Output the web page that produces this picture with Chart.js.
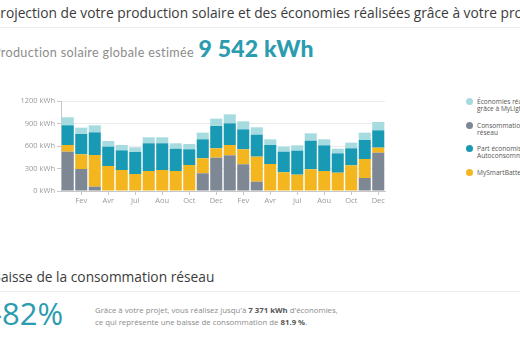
<!DOCTYPE html>
<html>
<head>
<meta charset="utf-8">
<script src="https://cdn.jsdelivr.net/npm/chart.js@4"></script>
<style>
  body { margin: 0; width: 520px; height: 347px; overflow: hidden; background: #fff; font-family: "Open Sans", sans-serif; position: relative; }
  .abs { position: absolute; white-space: nowrap; }
  .title { left: -8px; top: 3px; font-size: 13.75px; color: #3b3b3b; }
  .rule { left: 0; width: 520px; height: 1px; background: #ececec; }
  .sub { left: -7px; top: 34px; font-family: Lato, sans-serif; font-size: 12.6px; letter-spacing: 0.35px; color: #8c8c8c; }
  .sub b { font-size: 23px; font-weight: 900; color: #2b9caf; margin-left: 1px; letter-spacing: 0.2px; }
  #wrap { left: 0; top: 91px; width: 388px; height: 120px; }
  #legend { left: 466px; top: 98px; font-size: 6.6px; color: #555; line-height: 7px; }
  #legend .item { position: relative; padding-left: 11px; margin-bottom: 9.5px; }
  #legend .dot { position: absolute; left: 0; top: 0; width: 7px; height: 7px; border-radius: 50%; }
  .big { left: -8px; top: 292px; font-size: 31px; color: #2b9caf; }
  .para { left: 95px; top: 304px; font-size: 7.8px; line-height: 12px; color: #8a8a8a; }
  .para b { color: #555; }
</style>
</head>
<body>
<div class="abs title">Projection de votre production solaire et des économies réalisées grâce à votre projet</div>
<div class="abs rule" style="top:27px"></div>
<div class="abs sub">Production solaire globale estimée <b>9 542 kWh</b></div>
<div class="abs" id="wrap"><canvas id="myChart"></canvas></div>
<div class="abs" id="legend"></div>
<div class="abs title" style="top:267px">Baisse de la consommation réseau</div>
<div class="abs rule" style="top:291px"></div>
<div class="abs big">-82%</div>
<div class="abs para">Grâce à votre projet, vous réalisez jusqu'à <b>7 371 kWh</b> d'économies,<br>ce qui représente une baisse de consommation de <b>81.9 %</b>.</div>
<script>
const months = ["Jan", "Fev", "Mar", "Avr", "Mai", "Jul", "Jui", "Aou", "Sep", "Oct", "Nov", "Dec"];
const labels = months.concat(months);
const yTicks = [0, 300, 600, 900, 1200];

const reseau = [524, 293, 58, 0, 0, 0, 0, 0, 0, 0, 236, 444, 476, 356, 124, 0, 0, 0, 0, 0, 0, 0, 173, 511];
const battery = [89, 196, 422, 333, 280, 227, 267, 280, 267, 347, 200, 125, 137, 200, 334, 360, 249, 218, 289, 267, 244, 342, 254, 67];
const autoconso = [263, 271, 302, 258, 262, 293, 369, 356, 297, 209, 253, 298, 289, 266, 293, 253, 275, 320, 382, 342, 258, 227, 253, 231];
const mylight = [107, 84, 94, 76, 71, 62, 80, 80, 72, 71, 89, 97, 120, 107, 98, 76, 67, 71, 98, 80, 62, 75, 98, 111];

const seriesNames = {
  reseau: ["Consommation", "réseau"],
  battery: ["MySmartBattery"],
  autoconso: ["Part économisée", "Autoconsommation"],
  mylight: ["Économies réalisées", "grâce à MyLight"],
};
const colors = { reseau: "#7e8794", battery: "#f3b61f", autoconso: "#1899b4", mylight: "#a6dbe0" };
const legendOrder = ["mylight", "reseau", "autoconso", "battery"];

const ds = (key, data) => ({
  label: seriesNames[key].join(" "),
  data: data,
  backgroundColor: colors[key],
  borderWidth: 0,
  categoryPercentage: 0.92,
  barPercentage: 0.97,
});

var ctx = document.getElementById("myChart").getContext("2d");
var myChart = new Chart(ctx, {
  type: "bar",
  data: {
    labels: labels,
    datasets: [ds("reseau", reseau), ds("battery", battery), ds("autoconso", autoconso), ds("mylight", mylight)],
  },
  options: {
    responsive: true,
    maintainAspectRatio: false,
    animation: false,
    layout: { padding: { top: 10, right: 3 } },
    plugins: { legend: { display: false }, tooltip: { enabled: false } },
    scales: {
      x: {
        stacked: true,
        afterFit: (s) => { s.height = 20; },
        border: { color: "#c8c8c8" },
        grid: {
          offset: false,
          drawOnChartArea: false,
          tickLength: 4,
          color: (c) => (c.index % 2 === 1 ? "#c8c8c8" : "rgba(0,0,0,0)"),
        },
        ticks: {
          autoSkip: false,
          maxRotation: 0,
          padding: 1,
          color: "#999",
          font: { family: "Open Sans", size: 7.5 },
          callback: (v, i) => (i % 2 === 1 ? labels[i] : ""),
        },
      },
      y: {
        stacked: true,
        min: 0,
        max: 1200,
        afterFit: (s) => { s.width = 61; },
        afterBuildTicks: (s) => { s.ticks = yTicks.map((v) => ({ value: v })); },
        border: { color: "#c8c8c8" },
        grid: { color: "#ebebeb", tickLength: 4, tickColor: "#c8c8c8" },
        ticks: {
          padding: 2,
          color: "#999",
          font: { family: "Open Sans", size: 7.5 },
          callback: (v) => v + " kWh",
        },
      },
    },
  },
});

const legend = document.getElementById("legend");
legendOrder.forEach((key) => {
  const item = document.createElement("div");
  item.className = "item";
  item.innerHTML = '<span class="dot" style="background:' + colors[key] + '"></span>' + seriesNames[key].join("<br>");
  legend.appendChild(item);
});
</script>
</body>
</html>
